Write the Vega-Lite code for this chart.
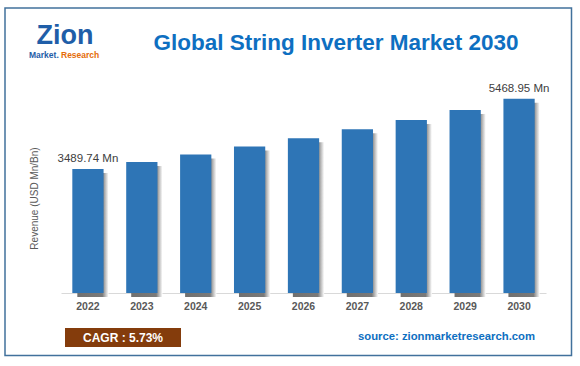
{
  "$schema": "https://vega.github.io/schema/vega-lite/v6.json",
  "width": 485,
  "height": 213,
  "autosize": "none",
  "padding": {"left": 61, "top": 80, "right": 34, "bottom": 73},
  "background": "white",
  "config": {"view": {"stroke": null}, "font": "Liberation Sans"},
  "data": {
    "values": [
      {"year": "2022", "revenue": 3489.74, "label": "3489.74 Mn"},
      {"year": "2023", "revenue": 3690, "label": ""},
      {"year": "2024", "revenue": 3901, "label": ""},
      {"year": "2025", "revenue": 4125, "label": ""},
      {"year": "2026", "revenue": 4361, "label": ""},
      {"year": "2027", "revenue": 4611, "label": ""},
      {"year": "2028", "revenue": 4875, "label": ""},
      {"year": "2029", "revenue": 5154, "label": ""},
      {"year": "2030", "revenue": 5468.95, "label": "5468.95 Mn"}
    ]
  },
  "encoding": {
    "x": {
      "field": "year",
      "type": "nominal",
      "scale": {"paddingInner": 0.42, "paddingOuter": 0.21},
      "axis": {
        "title": null,
        "labelAngle": 0,
        "labelFontSize": 10.5,
        "labelFontWeight": "bold",
        "labelColor": "#595959",
        "ticks": false,
        "labelPadding": 8,
        "domainColor": "#D9D9D9",
        "domainWidth": 1
      }
    },
    "y": {
      "field": "revenue",
      "type": "quantitative",
      "scale": {"domain": [0, 6000]},
      "axis": {
        "title": "Revenue (USD Mn/Bn)",
        "labels": false,
        "ticks": false,
        "domain": false,
        "grid": false,
        "titleX": -27,
        "titleY": 118,
        "titleAngle": -90,
        "titleBaseline": "middle",
        "titleAlign": "center",
        "titleFontWeight": "normal",
        "titleFontSize": 10,
        "titleColor": "#595959"
      }
    }
  },
  "layer": [
    {
      "data": {"values": [{}]},
      "mark": {"type": "rect", "x": -56, "x2": 510.5, "y": -72, "y2": 275.5, "fill": null, "stroke": "#41719C", "strokeWidth": 1.5},
      "encoding": {"x": null, "y": null}
    },
    {
      "data": {"values": [{}]},
      "mark": {"type": "rule", "x": -34, "x2": 486, "y": -18, "stroke": "#8FAADC", "strokeWidth": 1.5, "strokeDash": [4, 3]},
      "encoding": {"x": null, "y": null}
    },
    {
      "data": {"values": [{"t": "Global String Inverter Market 2030"}]},
      "mark": {"type": "text", "x": 275, "y": -30, "align": "center", "baseline": "alphabetic", "fontSize": 22.5, "fontWeight": "bold", "color": "#0E6FC1"},
      "encoding": {"x": null, "y": null, "text": {"field": "t"}}
    },
    {
      "data": {"values": [{"t": "Zion"}]},
      "mark": {"type": "text", "x": 4, "y": -36, "align": "center", "baseline": "alphabetic", "fontSize": 27, "fontWeight": "bold", "color": "#1F5EA8"},
      "encoding": {"x": null, "y": null, "text": {"field": "t"}}
    },
    {
      "data": {"values": [{"t": "Market."}]},
      "mark": {"type": "text", "x": -32, "y": -22, "align": "left", "baseline": "alphabetic", "fontSize": 8.5, "fontWeight": "bold", "color": "#1F5EA8"},
      "encoding": {"x": null, "y": null, "text": {"field": "t"}}
    },
    {
      "data": {"values": [{"t": "Research"}]},
      "mark": {"type": "text", "x": 0, "y": -22, "align": "left", "baseline": "alphabetic", "fontSize": 8.5, "fontWeight": "bold", "color": "#E46C0A"},
      "encoding": {"x": null, "y": null, "text": {"field": "t"}}
    },
    {
      "mark": {
        "type": "bar",
        "xOffset": 5,
        "yOffset": 4,
        "color": {
          "gradient": "linear",
          "x1": 0, "x2": 1, "y1": 0, "y2": 0,
          "stops": [
            {"offset": 0, "color": "#707070"},
            {"offset": 0.8, "color": "#7a7a7a"},
            {"offset": 1, "color": "#ffffff"}
          ]
        }
      }
    },
    {
      "mark": {"type": "bar", "color": "#2E75B6"}
    },
    {
      "mark": {"type": "text", "dy": -7, "baseline": "alphabetic", "align": "center", "fontSize": 11.5, "color": "#404040"},
      "encoding": {"text": {"field": "label"}}
    },
    {
      "data": {"values": [{}]},
      "mark": {"type": "rect", "x": 4, "x2": 120, "y": 248, "y2": 267, "fill": "#843C0C"},
      "encoding": {"x": null, "y": null}
    },
    {
      "data": {"values": [{"t": "CAGR : 5.73%"}]},
      "mark": {"type": "text", "x": 62, "y": 257.5, "align": "center", "baseline": "middle", "fontSize": 12, "fontWeight": "bold", "color": "white"},
      "encoding": {"x": null, "y": null, "text": {"field": "t"}}
    },
    {
      "data": {"values": [{"t": "source: zionmarketresearch.com"}]},
      "mark": {"type": "text", "x": 385.5, "y": 257, "align": "center", "baseline": "middle", "fontSize": 11.3, "fontWeight": "bold", "color": "#0E6FC1"},
      "encoding": {"x": null, "y": null, "text": {"field": "t"}}
    }
  ]
}
